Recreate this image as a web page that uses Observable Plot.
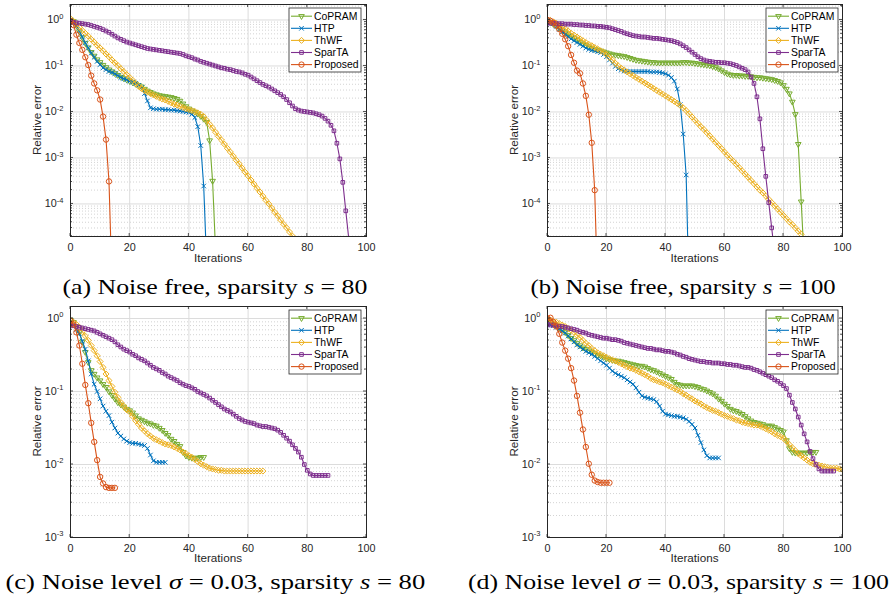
<!DOCTYPE html>
<html><head><meta charset="utf-8">
<script src="https://cdn.jsdelivr.net/npm/d3@7"></script>
<script src="https://cdn.jsdelivr.net/npm/@observablehq/plot@0.6"></script>
<style>
body{margin:0;background:#fff;}
#root{position:relative;width:891px;height:604px;overflow:hidden;background:#fff;}
.panel{position:absolute;overflow:hidden;}
.cap{position:absolute;font-family:"Liberation Serif","Times New Roman",serif;font-size:22px;color:#000;white-space:nowrap;line-height:1;}
</style></head><body><div id="root"></div><script>
// ---- shared categories / ticks ----
const methodNames = ["CoPRAM","HTP","ThWF","SparTA","Proposed"];
const methodColors = ["#77AC30","#0072BD","#EDB120","#7E2F8E","#D95319"];
const methodSymbols = ["triangle2","times","diamond2","square2","circle"];
const methodRotate = [180,0,0,0,0];
const methodRadius = [2.7,2.2,2.7,2.3,2.7];
const iterTicks = [0,20,40,60,80,100];

// ---- relative error values, stored as log10(relative error), one value per iteration (0,1,2,...) ----
// (a) noise free, s = 80
const a_CoPRAM = [0,-0.03,-0.12,-0.25,-0.38,-0.5,-0.6,-0.7,-0.78,-0.86,-0.92,-0.98,-1.03,-1.08,-1.12,-1.16,-1.2,-1.24,-1.27,-1.3,-1.33,-1.36,-1.39,-1.42,-1.45,-1.5,-1.54,-1.57,-1.6,-1.62,-1.64,-1.65,-1.66,-1.67,-1.68,-1.7,-1.72,-1.76,-1.82,-1.88,-1.93,-1.97,-2.0,-2.04,-2.09,-2.15,-2.22,-2.62,-3.5,-5.0];
const a_HTP = [0,-0.06,-0.13,-0.24,-0.37,-0.5,-0.61,-0.72,-0.81,-0.9,-0.97,-1.04,-1.08,-1.12,-1.14,-1.17,-1.21,-1.25,-1.28,-1.3,-1.33,-1.35,-1.38,-1.42,-1.47,-1.6,-1.76,-1.91,-1.93,-1.94,-1.94,-1.94,-1.95,-1.95,-1.96,-1.96,-1.97,-1.98,-1.99,-2.0,-2.01,-2.05,-2.12,-2.32,-2.73,-3.61,-5.3];
const a_ThWF = [0.03,-0.03,-0.1,-0.16,-0.23,-0.29,-0.35,-0.42,-0.48,-0.55,-0.61,-0.67,-0.74,-0.8,-0.87,-0.93,-0.99,-1.06,-1.12,-1.19,-1.25,-1.31,-1.38,-1.44,-1.49,-1.53,-1.57,-1.6,-1.63,-1.66,-1.69,-1.72,-1.74,-1.77,-1.8,-1.83,-1.85,-1.88,-1.9,-1.93,-1.95,-1.97,-1.99,-2.02,-2.05,-2.1,-2.18,-2.27,-2.35,-2.44,-2.53,-2.61,-2.7,-2.79,-2.87,-2.96,-3.05,-3.13,-3.22,-3.31,-3.39,-3.48,-3.57,-3.66,-3.74,-3.83,-3.92,-4.0,-4.09,-4.18,-4.26,-4.35,-4.44,-4.52,-4.61,-4.7];
const a_SparTA = [-0.04,-0.05,-0.06,-0.07,-0.08,-0.09,-0.1,-0.12,-0.14,-0.16,-0.18,-0.21,-0.24,-0.27,-0.31,-0.35,-0.39,-0.42,-0.45,-0.48,-0.5,-0.52,-0.54,-0.56,-0.58,-0.6,-0.62,-0.63,-0.64,-0.65,-0.66,-0.67,-0.68,-0.69,-0.7,-0.71,-0.72,-0.73,-0.75,-0.78,-0.8,-0.82,-0.85,-0.87,-0.9,-0.92,-0.94,-0.96,-0.98,-1.0,-1.02,-1.04,-1.05,-1.07,-1.08,-1.1,-1.12,-1.13,-1.15,-1.18,-1.2,-1.24,-1.28,-1.32,-1.36,-1.4,-1.43,-1.46,-1.5,-1.54,-1.58,-1.62,-1.67,-1.73,-1.8,-1.87,-1.93,-1.96,-1.98,-1.99,-2.0,-2.01,-2.02,-2.04,-2.06,-2.09,-2.14,-2.2,-2.29,-2.41,-2.68,-3.02,-3.53,-4.15,-4.75];
const a_Proposed = [-0.02,-0.11,-0.32,-0.5,-0.65,-0.81,-0.98,-1.21,-1.38,-1.53,-1.73,-2.1,-2.6,-3.51,-5.65];
// (b) noise free, s = 100
const b_CoPRAM = [-0.02,-0.05,-0.09,-0.13,-0.18,-0.23,-0.28,-0.32,-0.36,-0.4,-0.44,-0.48,-0.52,-0.55,-0.58,-0.61,-0.63,-0.65,-0.67,-0.69,-0.71,-0.73,-0.75,-0.76,-0.77,-0.78,-0.79,-0.81,-0.83,-0.85,-0.87,-0.88,-0.89,-0.9,-0.91,-0.92,-0.92,-0.93,-0.93,-0.93,-0.93,-0.93,-0.93,-0.93,-0.93,-0.93,-0.92,-0.92,-0.93,-0.93,-0.94,-0.95,-0.96,-0.97,-0.98,-0.99,-1.01,-1.03,-1.06,-1.1,-1.14,-1.17,-1.19,-1.2,-1.2,-1.21,-1.21,-1.22,-1.22,-1.23,-1.24,-1.25,-1.25,-1.26,-1.27,-1.28,-1.29,-1.31,-1.33,-1.36,-1.42,-1.5,-1.6,-1.78,-2.05,-2.7,-3.95,-5.2];
const b_HTP = [0,-0.03,-0.08,-0.14,-0.2,-0.26,-0.31,-0.36,-0.41,-0.45,-0.49,-0.53,-0.57,-0.61,-0.64,-0.66,-0.67,-0.69,-0.71,-0.75,-0.8,-0.87,-0.94,-1.01,-1.06,-1.09,-1.11,-1.12,-1.12,-1.12,-1.12,-1.12,-1.12,-1.12,-1.12,-1.13,-1.13,-1.13,-1.14,-1.15,-1.17,-1.2,-1.25,-1.33,-1.5,-1.84,-2.48,-3.37,-6.0];
const b_ThWF = [0.01,-0.01,-0.04,-0.07,-0.11,-0.15,-0.19,-0.24,-0.29,-0.33,-0.37,-0.41,-0.45,-0.49,-0.53,-0.56,-0.6,-0.63,-0.67,-0.7,-0.75,-0.81,-0.87,-0.94,-1.0,-1.05,-1.09,-1.13,-1.17,-1.21,-1.25,-1.29,-1.33,-1.37,-1.41,-1.45,-1.49,-1.53,-1.57,-1.61,-1.65,-1.69,-1.73,-1.77,-1.81,-1.86,-1.91,-1.97,-2.04,-2.11,-2.18,-2.25,-2.32,-2.38,-2.45,-2.52,-2.59,-2.66,-2.73,-2.8,-2.87,-2.94,-3.01,-3.07,-3.14,-3.21,-3.28,-3.35,-3.42,-3.49,-3.56,-3.63,-3.7,-3.76,-3.83,-3.9,-3.97,-4.04,-4.11,-4.18,-4.25,-4.32,-4.39,-4.45,-4.52,-4.59,-4.66];
const b_SparTA = [-0.07,-0.07,-0.07,-0.08,-0.08,-0.08,-0.09,-0.09,-0.09,-0.1,-0.1,-0.11,-0.11,-0.12,-0.12,-0.13,-0.13,-0.14,-0.14,-0.15,-0.16,-0.17,-0.19,-0.21,-0.23,-0.25,-0.28,-0.3,-0.32,-0.34,-0.35,-0.36,-0.37,-0.37,-0.38,-0.39,-0.4,-0.4,-0.41,-0.42,-0.43,-0.44,-0.45,-0.47,-0.49,-0.52,-0.56,-0.6,-0.65,-0.7,-0.75,-0.8,-0.84,-0.87,-0.89,-0.9,-0.91,-0.92,-0.92,-0.93,-0.93,-0.94,-0.95,-0.97,-0.99,-1.02,-1.05,-1.08,-1.13,-1.24,-1.38,-1.67,-2.15,-2.8,-3.4,-3.97,-4.52,-5.1];
const b_Proposed = [0,-0.02,-0.06,-0.12,-0.2,-0.3,-0.42,-0.57,-0.76,-0.93,-1.1,-1.16,-1.38,-1.65,-2.06,-2.67,-3.7,-5.9];
// (c) noise sigma = 0.03, s = 80
const c_CoPRAM = [-0.02,-0.05,-0.11,-0.19,-0.32,-0.46,-0.6,-0.71,-0.76,-0.81,-0.85,-0.9,-0.94,-1.0,-1.05,-1.1,-1.15,-1.18,-1.21,-1.24,-1.26,-1.29,-1.33,-1.37,-1.39,-1.41,-1.43,-1.44,-1.46,-1.47,-1.5,-1.53,-1.57,-1.6,-1.65,-1.68,-1.72,-1.75,-1.83,-1.88,-1.9,-1.91,-1.91,-1.91,-1.9,-1.9];
const c_HTP = [-0.05,-0.09,-0.15,-0.21,-0.31,-0.42,-0.58,-0.76,-0.9,-1.0,-1.1,-1.2,-1.27,-1.33,-1.42,-1.5,-1.57,-1.61,-1.65,-1.68,-1.7,-1.71,-1.71,-1.72,-1.73,-1.74,-1.78,-1.87,-1.95,-1.97,-1.97,-1.97,-1.97];
const c_ThWF = [-0.03,-0.05,-0.08,-0.12,-0.18,-0.24,-0.3,-0.37,-0.44,-0.51,-0.59,-0.67,-0.76,-0.85,-0.93,-1.01,-1.08,-1.15,-1.2,-1.25,-1.28,-1.34,-1.4,-1.45,-1.5,-1.54,-1.58,-1.61,-1.64,-1.66,-1.68,-1.7,-1.72,-1.73,-1.74,-1.76,-1.78,-1.8,-1.83,-1.85,-1.88,-1.9,-1.93,-1.96,-1.99,-2.01,-2.03,-2.05,-2.06,-2.07,-2.08,-2.08,-2.09,-2.09,-2.09,-2.09,-2.09,-2.09,-2.09,-2.09,-2.09,-2.09,-2.09,-2.09,-2.09,-2.09];
const c_SparTA = [-0.09,-0.1,-0.11,-0.12,-0.13,-0.14,-0.15,-0.16,-0.17,-0.19,-0.21,-0.23,-0.25,-0.27,-0.29,-0.32,-0.36,-0.39,-0.42,-0.44,-0.46,-0.49,-0.51,-0.54,-0.56,-0.58,-0.61,-0.64,-0.67,-0.69,-0.71,-0.74,-0.76,-0.79,-0.81,-0.83,-0.85,-0.88,-0.9,-0.92,-0.93,-0.95,-0.97,-1.0,-1.02,-1.04,-1.06,-1.09,-1.12,-1.15,-1.18,-1.21,-1.24,-1.26,-1.28,-1.31,-1.34,-1.37,-1.39,-1.41,-1.42,-1.43,-1.44,-1.46,-1.47,-1.48,-1.48,-1.49,-1.5,-1.51,-1.53,-1.56,-1.6,-1.64,-1.68,-1.73,-1.78,-1.83,-1.9,-2.0,-2.08,-2.13,-2.15,-2.15,-2.15,-2.15,-2.15,-2.15];
const c_Proposed = [-0.03,-0.08,-0.19,-0.37,-0.62,-0.91,-1.16,-1.43,-1.69,-1.94,-2.17,-2.26,-2.31,-2.32,-2.32,-2.32];
// (d) noise sigma = 0.03, s = 100
const d_CoPRAM = [-0.03,-0.05,-0.08,-0.1,-0.13,-0.16,-0.19,-0.23,-0.27,-0.3,-0.34,-0.37,-0.4,-0.42,-0.44,-0.46,-0.48,-0.5,-0.51,-0.53,-0.55,-0.56,-0.57,-0.58,-0.58,-0.59,-0.6,-0.61,-0.62,-0.63,-0.64,-0.65,-0.65,-0.66,-0.68,-0.7,-0.71,-0.73,-0.75,-0.77,-0.79,-0.81,-0.83,-0.87,-0.9,-0.91,-0.92,-0.92,-0.92,-0.92,-0.93,-0.94,-0.96,-0.97,-0.99,-1.01,-1.03,-1.06,-1.1,-1.13,-1.17,-1.2,-1.24,-1.26,-1.27,-1.29,-1.31,-1.34,-1.37,-1.4,-1.42,-1.43,-1.44,-1.45,-1.47,-1.47,-1.47,-1.49,-1.51,-1.53,-1.55,-1.67,-1.78,-1.83,-1.84,-1.84,-1.84,-1.84,-1.84,-1.83,-1.83,-1.83];
const d_HTP = [-0.08,-0.09,-0.1,-0.12,-0.14,-0.17,-0.2,-0.24,-0.28,-0.32,-0.36,-0.39,-0.42,-0.45,-0.47,-0.49,-0.52,-0.55,-0.58,-0.61,-0.64,-0.68,-0.72,-0.75,-0.77,-0.79,-0.81,-0.84,-0.87,-0.9,-0.95,-1.01,-1.06,-1.08,-1.09,-1.1,-1.11,-1.14,-1.2,-1.27,-1.31,-1.32,-1.33,-1.34,-1.34,-1.35,-1.36,-1.38,-1.41,-1.45,-1.5,-1.6,-1.7,-1.8,-1.88,-1.91,-1.91,-1.91,-1.91];
const d_ThWF = [-0.01,-0.02,-0.04,-0.05,-0.07,-0.09,-0.11,-0.14,-0.16,-0.19,-0.23,-0.26,-0.3,-0.34,-0.37,-0.41,-0.44,-0.47,-0.49,-0.51,-0.53,-0.55,-0.57,-0.58,-0.6,-0.62,-0.64,-0.66,-0.68,-0.69,-0.71,-0.73,-0.75,-0.77,-0.79,-0.82,-0.84,-0.85,-0.87,-0.88,-0.9,-0.92,-0.94,-0.96,-0.98,-1.0,-1.03,-1.05,-1.08,-1.1,-1.13,-1.15,-1.17,-1.2,-1.22,-1.24,-1.26,-1.27,-1.29,-1.31,-1.33,-1.34,-1.36,-1.37,-1.39,-1.4,-1.42,-1.43,-1.44,-1.45,-1.46,-1.46,-1.47,-1.49,-1.51,-1.53,-1.55,-1.58,-1.6,-1.62,-1.64,-1.68,-1.73,-1.77,-1.81,-1.85,-1.88,-1.91,-1.94,-1.97,-1.99,-2.0,-2.01,-2.02,-2.03,-2.04,-2.05,-2.05,-2.05,-2.06,-2.07];
const d_SparTA = [-0.08,-0.09,-0.09,-0.1,-0.11,-0.11,-0.12,-0.13,-0.14,-0.15,-0.16,-0.18,-0.19,-0.2,-0.22,-0.23,-0.24,-0.25,-0.26,-0.27,-0.27,-0.28,-0.29,-0.29,-0.3,-0.31,-0.33,-0.34,-0.35,-0.36,-0.37,-0.38,-0.39,-0.4,-0.41,-0.41,-0.42,-0.43,-0.43,-0.44,-0.45,-0.45,-0.46,-0.47,-0.49,-0.5,-0.52,-0.53,-0.55,-0.56,-0.57,-0.58,-0.59,-0.59,-0.6,-0.6,-0.61,-0.61,-0.61,-0.62,-0.62,-0.63,-0.63,-0.64,-0.64,-0.65,-0.66,-0.67,-0.67,-0.68,-0.7,-0.71,-0.73,-0.75,-0.77,-0.79,-0.81,-0.84,-0.86,-0.89,-0.92,-0.96,-1.05,-1.15,-1.24,-1.35,-1.46,-1.58,-1.69,-1.82,-1.92,-2.0,-2.06,-2.09,-2.09,-2.09,-2.09,-2.09];
const d_Proposed = [0,0.01,-0.05,-0.11,-0.21,-0.33,-0.44,-0.55,-0.68,-0.85,-1.06,-1.29,-1.52,-1.76,-1.99,-2.14,-2.22,-2.24,-2.25,-2.25,-2.25,-2.25];

// ---- caption texts ----
const captions = [
  '(a) Noise free, sparsity <i>s</i> = 80',
  '(b) Noise free, sparsity <i>s</i> = 100',
  '(c) Noise level <i>σ</i> = 0.03, sparsity <i>s</i> = 80',
  '(d) Noise level <i>σ</i> = 0.03, sparsity <i>s</i> = 100'
];
const captionWidths = [305, 305, 420, 421];

// ---- layout (page pixel coordinates) ----
const panels = [
  {left:0,   top:0,   w:445, h:270, frame:{l:70, r:366, t:4,   b:236}, yDomain:[1.96e-5,2.17], legend:{x:289,y:8},   series:[a_CoPRAM,a_HTP,a_ThWF,a_SparTA,a_Proposed], cap:{x:215,y:287}},
  {left:445, top:0,   w:446, h:270, frame:{l:547,r:842, t:4,   b:236}, yDomain:[1.96e-5,2.17], legend:{x:766,y:8},   series:[b_CoPRAM,b_HTP,b_ThWF,b_SparTA,b_Proposed], cap:{x:683,y:287}},
  {left:0,   top:296, w:445, h:272, frame:{l:70, r:366, t:306, b:537}, yDomain:[1e-3,1.46],    legend:{x:289,y:310}, series:[c_CoPRAM,c_HTP,c_ThWF,c_SparTA,c_Proposed], cap:{x:215,y:582}},
  {left:445, top:296, w:446, h:272, frame:{l:547,r:842, t:306, b:537}, yDomain:[1e-3,1.46],    legend:{x:766,y:310}, series:[d_CoPRAM,d_HTP,d_ThWF,d_SparTA,d_Proposed], cap:{x:678,y:582}}
];
const xLabelOffset = [26, 26, 25, 25];

const FONT = "'Liberation Sans', Arial, Helvetica, sans-serif";
const INK = "#262626";
const d3Sym = {triangle2: d3.symbolTriangle2, times: d3.symbolTimes, diamond2: d3.symbolDiamond2, square2: d3.symbolSquare2, circle: d3.symbolCircle};
const root = document.getElementById("root");

panels.forEach((cfg, pi) => {
  const rows = [];
  cfg.series.forEach((arr, s) => arr.forEach((v, i) => rows.push({s, iter: i, err: Math.pow(10, v)})));
  const mL = cfg.frame.l - cfg.left, mR = cfg.left + cfg.w - cfg.frame.r;
  const mT = cfg.frame.t - cfg.top, mB = cfg.top + cfg.h - cfg.frame.b;
  const [y0, y1] = cfg.yDomain;
  const major = [], minor = [];
  for (let e = -6; e <= 1; e++) for (let k = 1; k <= 9; k++) {
    const v = k * Math.pow(10, e);
    if (v >= y0 * 0.999 && v <= y1 * 1.001) (k === 1 ? major : minor).push(v);
  }
  const marks = [
    Plot.gridY({ticks: minor, stroke: "#c8c8c8", strokeOpacity: 1, strokeWidth: 0.8, strokeDasharray: "1,2"}),
    Plot.gridX({ticks: [20,40,60,80], stroke: "#dcdcdc", strokeOpacity: 1, strokeWidth: 1}),
    Plot.gridY({ticks: major, stroke: "#dcdcdc", strokeOpacity: 1, strokeWidth: 1})
  ];
  methodNames.forEach((n, s) => {
    const d = rows.filter(r => r.s === s);
    marks.push(Plot.line(d, {x: "iter", y: "err", stroke: methodColors[s], strokeWidth: 1.1, clip: true}));
    marks.push(Plot.dot(d, {x: "iter", y: "err", symbol: methodSymbols[s], r: methodRadius[s], stroke: methodColors[s], fill: "none", strokeWidth: 1, rotate: methodRotate[s], clip: true}));
  });
  marks.push(Plot.axisX({ticks: iterTicks, tickSize: 0, tickPadding: 7, label: null}));
  marks.push(Plot.axisY({ticks: major, tickSize: 0, tickPadding: 7, label: null, tickFormat: v => "E" + Math.round(Math.log10(v))}));
  marks.push(Plot.frame({stroke: INK, strokeWidth: 1}));

  const svg = Plot.plot({
    width: cfg.w, height: cfg.h,
    marginLeft: mL, marginRight: mR, marginTop: mT, marginBottom: mB,
    x: {domain: [0, 100]},
    y: {type: "log", domain: cfg.yDomain},
    style: {fontFamily: FONT, fontSize: "10.8px", color: INK, background: "transparent", overflow: "visible"},
    marks
  });

  const sx = svg.scale("x"), sy = svg.scale("y");
  const S = d3.select(svg);
  // superscript exponents on y tick labels
  S.selectAll('g[aria-label="y-axis tick label"] text').each(function() {
    const t = d3.select(this);
    const ex = t.text().slice(1);
    t.text("");
    t.append("tspan").text("10");
    t.append("tspan").attr("dy", "-4.5").attr("font-size", "7.5px").text(ex);
  });
  const fl = mL, fr = cfg.w - mR, ft = mT, fb = cfg.h - mB;
  const g = S.append("g").attr("stroke", INK).attr("stroke-width", 0.8);
  iterTicks.forEach(v => {
    const x = sx.apply(v);
    g.append("line").attr("x1", x).attr("x2", x).attr("y1", fb).attr("y2", fb - 3);
    g.append("line").attr("x1", x).attr("x2", x).attr("y1", ft).attr("y2", ft + 3);
  });
  major.concat(minor).forEach(v => {
    const y = sy.apply(v), len = major.includes(v) ? 3 : 2;
    g.append("line").attr("x1", fl).attr("x2", fl + len).attr("y1", y).attr("y2", y);
    g.append("line").attr("x1", fr).attr("x2", fr - len).attr("y1", y).attr("y2", y);
  });
  // axis titles
  S.append("text").attr("x", (fl + fr) / 2).attr("y", fb + xLabelOffset[pi]).attr("text-anchor", "middle")
    .attr("font-family", FONT).attr("font-size", "11.7px").attr("fill", INK).text("Iterations");
  S.append("text").attr("transform", `translate(${fl - 29},${(ft + fb) / 2}) rotate(-90)`).attr("text-anchor", "middle")
    .attr("font-family", FONT).attr("font-size", "11.7px").attr("fill", INK).text("Relative error");
  // legend
  const lx = cfg.legend.x - cfg.left, ly = cfg.legend.y - cfg.top;
  const L = S.append("g");
  L.append("rect").attr("x", lx).attr("y", ly).attr("width", 72).attr("height", 64)
    .attr("fill", "white").attr("stroke", INK).attr("stroke-width", 0.8);
  methodNames.forEach((n, s) => {
    const cy = ly + 8.2 + s * 12.1;
    L.append("line").attr("x1", lx + 2).attr("x2", lx + 23).attr("y1", cy).attr("y2", cy)
      .attr("stroke", methodColors[s]).attr("stroke-width", 1.1);
    const r = methodRadius[s];
    L.append("path").attr("d", d3.symbol(d3Sym[methodSymbols[s]], Math.PI * r * r)())
      .attr("transform", `translate(${lx + 12.5},${cy}) rotate(${methodRotate[s]})`)
      .attr("fill", "none").attr("stroke", methodColors[s]).attr("stroke-width", 1);
    L.append("text").attr("x", lx + 25).attr("y", cy).attr("dy", "0.35em").attr("text-anchor", "start")
      .attr("font-family", FONT).attr("font-size", "10.4px").attr("fill", "#000").text(n);
  });

  const div = document.createElement("div");
  div.className = "panel";
  Object.assign(div.style, {left: cfg.left + "px", top: cfg.top + "px", width: cfg.w + "px", height: cfg.h + "px"});
  div.appendChild(svg);
  root.appendChild(div);
});

// captions (drawn above the panels), stretched horizontally to the reference's text width
panels.forEach((cfg, pi) => {
  const cap = document.createElement("div");
  cap.className = "cap";
  cap.innerHTML = captions[pi];
  root.appendChild(cap);
  const w = cap.getBoundingClientRect().width, h = cap.getBoundingClientRect().height;
  const k = captionWidths[pi] / w;
  cap.style.left = (cfg.cap.x - w / 2) + "px";
  cap.style.top = (cfg.cap.y - h / 2) + "px";
  cap.style.transformOrigin = "50% 50%";
  cap.style.transform = `scaleX(${k.toFixed(3)})`;
});
</script></body></html>
